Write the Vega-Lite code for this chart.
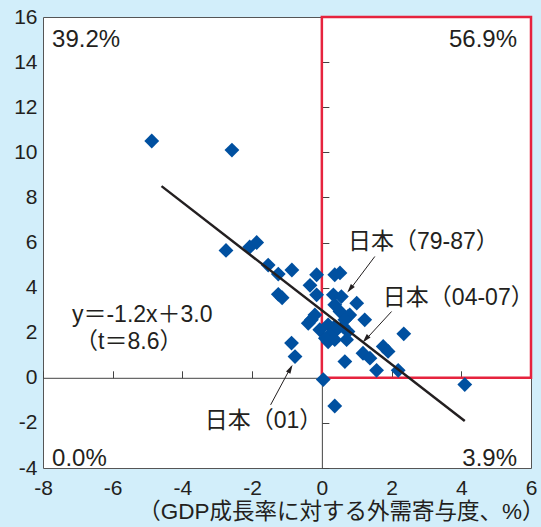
{
  "$schema": "https://vega.github.io/schema/vega-lite/v6.json",
  "width": 488,
  "height": 451,
  "autosize": {"type": "none"},
  "padding": {"left": 43, "top": 17, "right": 10, "bottom": 59},
  "background": "#d2eefa",
  "config": {
    "view": {"fill": "white", "stroke": "#555555", "strokeWidth": 1},
    "axis": {"grid": false}
  },
  "resolve": {"axis": {"x": "independent", "y": "independent"}},
  "data": {"values": [{}]},
  "datasets": {
    "pts": [
      {"x": -4.88, "y": 10.5}, {"x": -2.58, "y": 10.1}, {"x": -2.75, "y": 5.65}, {"x": -2.07, "y": 5.8},
      {"x": -1.87, "y": 6.0}, {"x": -1.54, "y": 5.0}, {"x": -1.25, "y": 4.6}, {"x": -0.86, "y": 4.78},
      {"x": -1.25, "y": 3.7}, {"x": -1.14, "y": 3.55}, {"x": -0.15, "y": 4.57}, {"x": 0.37, "y": 4.57},
      {"x": 0.52, "y": 4.65}, {"x": -0.34, "y": 4.1}, {"x": -0.15, "y": 3.68}, {"x": 0.33, "y": 3.68},
      {"x": 0.56, "y": 3.6}, {"x": 1.0, "y": 3.31}, {"x": 0.37, "y": 3.24}, {"x": 0.52, "y": 2.94},
      {"x": -0.2, "y": 2.79}, {"x": -0.3, "y": 2.57}, {"x": -0.39, "y": 2.42}, {"x": 0.75, "y": 2.72},
      {"x": 0.8, "y": 2.79}, {"x": 0.66, "y": 2.57}, {"x": 1.23, "y": 2.57}, {"x": 0.18, "y": 2.35},
      {"x": 0.37, "y": 2.27}, {"x": 0.61, "y": 2.27}, {"x": -0.06, "y": 2.13}, {"x": 0.42, "y": 2.13},
      {"x": 0.75, "y": 2.05}, {"x": 0.23, "y": 1.91}, {"x": 0.18, "y": 1.6}, {"x": 0.37, "y": 1.69},
      {"x": 0.71, "y": 1.69}, {"x": 0.1, "y": 1.75}, {"x": -0.87, "y": 1.54}, {"x": -0.77, "y": 0.94},
      {"x": 0.66, "y": 0.72}, {"x": 1.18, "y": 1.09}, {"x": 1.38, "y": 0.87}, {"x": 1.76, "y": 1.39},
      {"x": 1.9, "y": 1.17}, {"x": 2.35, "y": 1.95}, {"x": 1.57, "y": 0.33}, {"x": 2.19, "y": 0.33},
      {"x": 0.04, "y": -0.08}, {"x": 0.37, "y": -1.25}, {"x": 4.1, "y": -0.3}
    ],
    "fit": [{"x": -4.6, "y": 8.5}, {"x": 4.1, "y": -1.92}]
  },
  "layer": [
    {
      "data": {"name": "fit"},
      "mark": {"type": "line", "strokeOpacity": 0},
      "encoding": {
        "x": {"field": "x", "type": "quantitative", "scale": {"domain": [-8, 6], "nice": false, "zero": false},
          "axis": {"orient": "top", "offset": -360.8, "labels": false, "ticks": true, "tickSize": 7, "tickColor": "#444444", "domain": true, "domainColor": "#444444", "domainWidth": 1, "title": null, "values": [-8, -6, -4, -2, 0, 2, 4, 6]}},
        "y": {"field": "y", "type": "quantitative", "scale": {"domain": [-4, 16], "nice": false, "zero": false},
          "axis": {"orient": "right", "offset": -209.14, "labels": false, "ticks": true, "tickSize": 7, "tickColor": "#444444", "domain": true, "domainColor": "#444444", "domainWidth": 1, "title": null, "values": [-4, -2, 0, 2, 4, 6, 8, 10, 12, 14, 16]}}
      }
    },
    {
      "mark": {"type": "rect", "fill": null, "fillOpacity": 0, "stroke": "#e6233e", "strokeWidth": 2.5},
      "encoding": {
        "x": {"datum": 0, "type": "quantitative", "axis": null},
        "x2": {"datum": 6},
        "y": {"datum": 0, "type": "quantitative", "axis": null},
        "y2": {"datum": 16}
      }
    },
    {
      "data": {"name": "pts"},
      "mark": {"type": "point", "shape": "diamond", "filled": true, "size": 220, "color": "#0050a0", "opacity": 1},
      "encoding": {
        "x": {"field": "x", "type": "quantitative",
          "axis": {"orient": "bottom", "ticks": false, "domain": false, "labelFlush": false, "labelOverlap": false, "values": [-8, -6, -4, -2, 0, 2, 4, 6], "labelExpr": "'' + datum.value", "labelFont": "Liberation Sans", "labelFontSize": 21, "labelColor": "#231f20", "labelPadding": 9,
            "title": "（GDP成長率に対する外需寄与度、%）", "titleFont": "Liberation Sans, Noto Sans CJK JP", "titleFontSize": 22.5, "titleFontWeight": "normal", "titleColor": "#231f20", "titleAlign": "right", "titleBaseline": "alphabetic", "titleX": 501, "titleY": 50}},
        "y": {"field": "y", "type": "quantitative",
          "axis": {"orient": "left", "ticks": false, "domain": false, "labelFlush": false, "labelOverlap": false, "values": [-4, -2, 0, 2, 4, 6, 8, 10, 12, 14, 16], "labelExpr": "'' + datum.value", "labelFont": "Liberation Sans", "labelFontSize": 21, "labelColor": "#231f20", "labelPadding": 6, "title": null}}
      }
    },
    {
      "data": {"name": "fit"},
      "mark": {"type": "line", "color": "#231f20", "strokeWidth": 2.5},
      "encoding": {
        "x": {"field": "x", "type": "quantitative", "axis": null},
        "y": {"field": "y", "type": "quantitative", "axis": null}
      }
    },
    {
      "mark": {"type": "rule", "color": "#231f20", "strokeWidth": 1},
      "encoding": {
        "x": {"datum": 1.52, "type": "quantitative", "axis": null}, "y": {"datum": 5.38, "type": "quantitative", "axis": null},
        "x2": {"datum": 0.78}, "y2": {"datum": 3.86}
      }
    },
    {
      "mark": {"type": "rule", "color": "#231f20", "strokeWidth": 1},
      "encoding": {
        "x": {"datum": 2.0, "type": "quantitative", "axis": null}, "y": {"datum": 2.94, "type": "quantitative", "axis": null},
        "x2": {"datum": 1.22}, "y2": {"datum": 1.63}
      }
    },
    {
      "mark": {"type": "rule", "color": "#231f20", "strokeWidth": 1},
      "encoding": {
        "x": {"datum": -1.47, "type": "quantitative", "axis": null}, "y": {"datum": -1.2, "type": "quantitative", "axis": null},
        "x2": {"datum": -0.88}, "y2": {"datum": 0.5}
      }
    },
    {
      "mark": {"type": "point", "shape": "M0,0L-0.5,1.8L0.5,1.8Z", "filled": true, "color": "#231f20", "size": 100, "angle": 218, "opacity": 1},
      "encoding": {"x": {"datum": 0.73, "type": "quantitative", "axis": null}, "y": {"datum": 3.78, "type": "quantitative", "axis": null}}
    },
    {
      "mark": {"type": "point", "shape": "M0,0L-0.5,1.8L0.5,1.8Z", "filled": true, "color": "#231f20", "size": 100, "angle": 222, "opacity": 1},
      "encoding": {"x": {"datum": 1.17, "type": "quantitative", "axis": null}, "y": {"datum": 1.57, "type": "quantitative", "axis": null}}
    },
    {
      "mark": {"type": "point", "shape": "M0,0L-0.5,1.8L0.5,1.8Z", "filled": true, "color": "#231f20", "size": 100, "angle": 29, "opacity": 1},
      "encoding": {"x": {"datum": -0.84, "type": "quantitative", "axis": null}, "y": {"datum": 0.58, "type": "quantitative", "axis": null}}
    },
    {
      "mark": {"type": "text", "align": "left", "baseline": "middle", "font": "Liberation Sans", "fontSize": 24, "color": "#231f20"},
      "encoding": {"x": {"datum": -7.74, "type": "quantitative", "axis": null}, "y": {"datum": 15.0, "type": "quantitative", "axis": null}, "text": {"value": "39.2%"}}
    },
    {
      "mark": {"type": "text", "align": "right", "baseline": "middle", "font": "Liberation Sans", "fontSize": 24, "color": "#231f20"},
      "encoding": {"x": {"datum": 5.6, "type": "quantitative", "axis": null}, "y": {"datum": 15.0, "type": "quantitative", "axis": null}, "text": {"value": "56.9%"}}
    },
    {
      "mark": {"type": "text", "align": "left", "baseline": "middle", "font": "Liberation Sans", "fontSize": 24, "color": "#231f20"},
      "encoding": {"x": {"datum": -7.74, "type": "quantitative", "axis": null}, "y": {"datum": -3.6, "type": "quantitative", "axis": null}, "text": {"value": "0.0%"}}
    },
    {
      "mark": {"type": "text", "align": "right", "baseline": "middle", "font": "Liberation Sans", "fontSize": 24, "color": "#231f20"},
      "encoding": {"x": {"datum": 5.6, "type": "quantitative", "axis": null}, "y": {"datum": -3.6, "type": "quantitative", "axis": null}, "text": {"value": "3.9%"}}
    },
    {
      "mark": {"type": "text", "align": "left", "baseline": "middle", "font": "Liberation Sans, Noto Sans CJK JP", "fontSize": 23, "color": "#231f20"},
      "encoding": {"x": {"datum": -7.17, "type": "quantitative", "axis": null}, "y": {"datum": 2.8, "type": "quantitative", "axis": null}, "text": {"value": "y＝-1.2x＋3.0"}}
    },
    {
      "mark": {"type": "text", "align": "left", "baseline": "middle", "font": "Liberation Sans, Noto Sans CJK JP", "fontSize": 23, "color": "#231f20"},
      "encoding": {"x": {"datum": -7.08, "type": "quantitative", "axis": null}, "y": {"datum": 1.6, "type": "quantitative", "axis": null}, "text": {"value": "（t＝8.6）"}}
    },
    {
      "mark": {"type": "text", "align": "left", "baseline": "middle", "font": "Liberation Sans, Noto Sans CJK JP", "fontSize": 23, "color": "#231f20"},
      "encoding": {"x": {"datum": 0.75, "type": "quantitative", "axis": null}, "y": {"datum": 6.04, "type": "quantitative", "axis": null}, "text": {"value": "日本（79-87）"}}
    },
    {
      "mark": {"type": "text", "align": "left", "baseline": "middle", "font": "Liberation Sans, Noto Sans CJK JP", "fontSize": 23, "color": "#231f20"},
      "encoding": {"x": {"datum": 1.75, "type": "quantitative", "axis": null}, "y": {"datum": 3.56, "type": "quantitative", "axis": null}, "text": {"value": "日本（04-07）"}}
    },
    {
      "mark": {"type": "text", "align": "left", "baseline": "middle", "font": "Liberation Sans, Noto Sans CJK JP", "fontSize": 23, "color": "#231f20"},
      "encoding": {"x": {"datum": -3.36, "type": "quantitative", "axis": null}, "y": {"datum": -1.9, "type": "quantitative", "axis": null}, "text": {"value": "日本（01）"}}
    }
  ]
}
